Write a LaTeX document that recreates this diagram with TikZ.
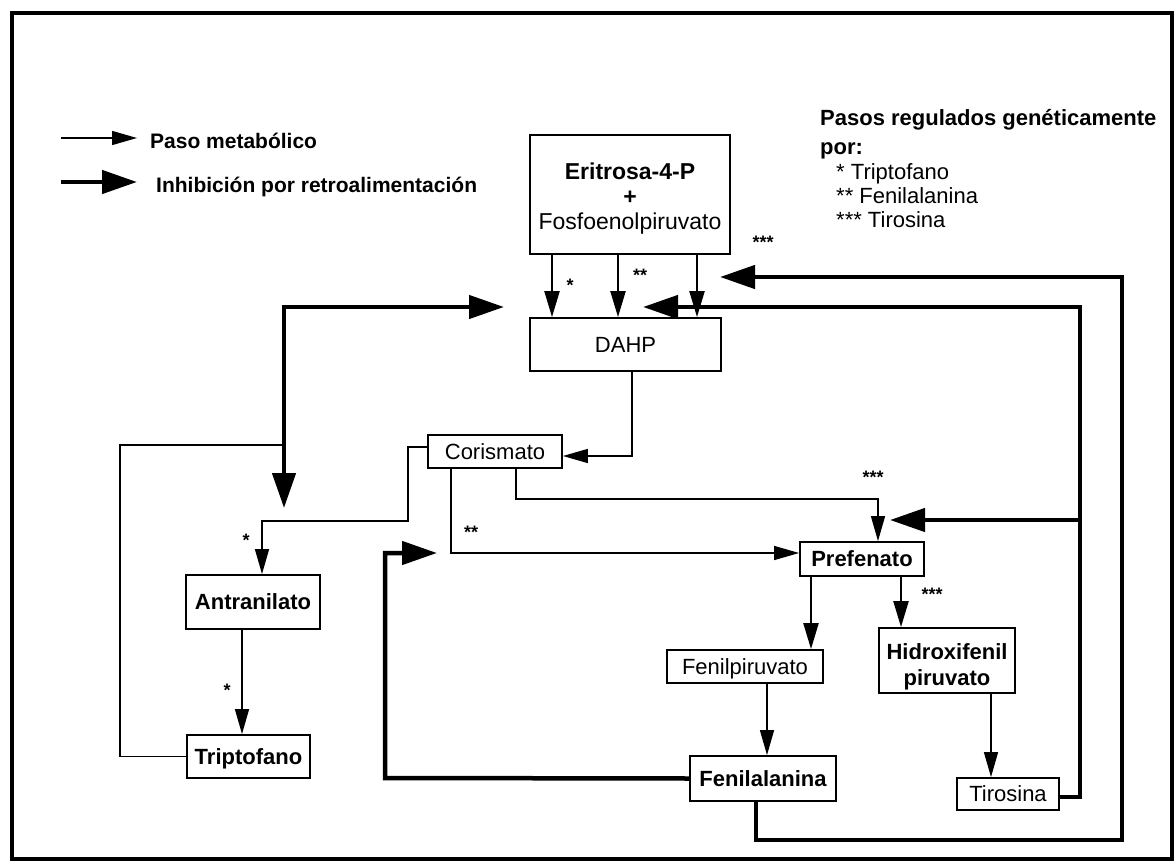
\documentclass[tikz,border=0pt]{standalone}
\usepackage{fontspec}
\setmainfont{Liberation Sans}
\usetikzlibrary{arrows.meta}
\begin{document}
\begin{tikzpicture}[x=1pt,y=-1pt,
  box/.style={draw,line width=1.8pt,inner sep=0pt,font=\fontsize{22}{25}\selectfont,text height=15.8pt,text depth=0pt},
  bbox/.style={box,font=\bfseries\fontsize{22}{25}\selectfont},
  emptybox/.style={draw,line width=1.8pt,inner sep=0pt},
  multi/.style={inner sep=0pt,align=center,font=\fontsize{23}{25}\selectfont},
  met/.style={line width=1.4pt,-{Triangle[length=25pt,width=14pt]}},
  metb/.style={line width=2.2pt,-{Triangle[length=26pt,width=15pt]}},
  fb/.style={line width=4.5pt,-{Triangle[length=35pt,width=23pt]}},
  thl/.style={line width=1.4pt},
  starlbl/.style={inner sep=0pt,font=\bfseries\fontsize{18}{18}\selectfont},
  txt/.style={inner sep=0pt,anchor=west,text height=15.8pt,text depth=0pt,font=\fontsize{22}{25}\selectfont},
  btxt/.style={txt,font=\bfseries\fontsize{22}{25}\selectfont},
  legtxt/.style={txt,font=\bfseries\fontsize{21}{25}\selectfont},
]
\useasboundingbox (0,0) rectangle (1175,861);
\fill[white] (0,0) rectangle (1175,861);
% frame
\draw[line width=4pt] (12,13) rectangle (1172,859);

% legend
\coordinate (la1) at (61,138);
\coordinate (lb1) at (137,138);
\coordinate (la2) at (61,182);
\coordinate (lb2) at (137,182);
\draw[met] (la1) -- (lb1);
\draw[fb] (la2) -- (lb2);
\node[legtxt] (leg1) at (150,141) {Paso metabólico};
\node[legtxt] (leg2) at (156,185) {Inhibición por retroalimentación};

\node[btxt] (reg1) at (820,118) {Pasos regulados genéticamente};
\node[btxt] (reg2) at (820,147) {por:};
\node[txt] (reg3) at (836,172) {* Triptofano};
\node[txt] (reg4) at (836,196) {** Fenilalanina};
\node[txt] (reg5) at (836,220) {*** Tirosina};

% boxes
\node[emptybox,minimum width=200pt,minimum height=119pt] (erit) at (630,194.5) {};
\node[multi] (erittxt) at (630,199) {\textbf{Eritrosa-4-P}\\\textbf{+}\\Fosfoenolpiruvato};
\node[box,minimum width=191pt,minimum height=53pt] (dahp) at (625.5,344.5) {DAHP};
\node[box,minimum width=134pt,minimum height=33pt] (coris) at (495,451.5) {Corismato};
\node[bbox,minimum width=134pt,minimum height=54pt] (antr) at (253,602) {Antranilato};
\node[bbox,minimum width=123pt,minimum height=43pt] (trip) at (248.5,756.5) {Triptofano};
\node[bbox,minimum width=124pt,minimum height=34pt] (pref) at (862,559) {Prefenato};
\node[box,minimum width=156pt,minimum height=33pt] (fpir) at (745,666.5) {Fenilpiruvato};
\node[emptybox,minimum width=136pt,minimum height=65pt] (hidr) at (947,660.5) {};
\node[multi,font=\bfseries\fontsize{22}{26}\selectfont] (hidrtxt) at (947,667) {Hidroxifenil\\piruvato};
\node[bbox,minimum width=146pt,minimum height=45pt] (fala) at (763,778.5) {Fenilalanina};
\node[box,minimum width=102pt,minimum height=32pt] (tiro) at (1008,794) {Tirosina};

% column / kink coordinates
\coordinate (xA) at (552,0);
\coordinate (xB) at (618,0);
\coordinate (xC) at (697,0);
\coordinate (xD) at (632,0);
\coordinate (xG) at (242,0);
\coordinate (xH) at (451,0);
\coordinate (xI) at (516,0);
\coordinate (xJ) at (811,0);
\coordinate (xK) at (901,0);
\coordinate (xL) at (767,0);
\coordinate (xM) at (991,0);

% Eritrosa -> DAHP
\draw[metb] (erit.south -| xA) -- (dahp.north -| xA);
\draw[metb] (erit.south -| xB) -- (dahp.north -| xB);
\draw[metb] (erit.south -| xC) -- (dahp.north -| xC);
\node[starlbl] (s1) at (570,285) {*};
\node[starlbl] (s2) at (640,275) {**};
\node[starlbl] (s3) at (763,242) {***};

% DAHP -> Corismato
\coordinate (kd) at (632,456);
\draw[met] (dahp.south -| xD) -- (kd) -- ([yshift=-4.5pt]coris.east);

% Corismato -> Antranilato
\coordinate (k1) at (408,521);
\coordinate (k2) at (262,521);
\draw[met] ([yshift=4.5pt]coris.west) -| (k1) -- (k2) -- (antr.north -| k2);
\node[starlbl] (s4) at (246,540) {*};

% Antranilato -> Triptofano
\draw[met] (antr.south -| xG) -- (trip.north -| xG);
\node[starlbl] (s5) at (227,690) {*};

% Triptofano feedback
\coordinate (k3) at (120,445);
\coordinate (j1) at (284,445);
\coordinate (tipA) at (504,307);
\coordinate (tipB) at (284,508);
\draw[thl] (trip.west) -| (k3) -- (j1);
\draw[fb] (j1) |- (tipA);
\draw[fb] (j1) -- (tipB);

% Corismato -> Prefenato (**)
\coordinate (k4) at (451,553);
\draw[met] (coris.south -| xH) -- (k4) -- (pref.west |- k4);
\node[starlbl] (s6) at (471,532) {**};

% Corismato -> Prefenato (***)
\coordinate (k5) at (878,499);
\draw[met] (coris.south -| xI) |- (k5) -- (pref.north -| k5);
\node[starlbl] (s7) at (873,477) {***};

% Prefenato -> Fenilpiruvato / Hidroxifenilpiruvato
\draw[metb] (pref.south -| xJ) -- (fpir.north -| xJ);
\draw[metb] (pref.south -| xK) -- (hidr.north -| xK);
\node[starlbl] (s8) at (932,594) {***};

% -> Fenilalanina / Tirosina
\draw[met] (fpir.south -| xL) -- (fala.north -| xL);
\draw[met] (hidr.south -| xM) -- (tiro.north -| xM);

% Fenilalanina feedback
\coordinate (k6) at (385,778);
\coordinate (tipC) at (437,553);
\draw[fb] (fala.west) -- (k6) |- (tipC);
\coordinate (k7) at (756,840);
\coordinate (k8) at (1122,840);
\coordinate (tipD) at (720,277);
\draw[fb] (fala.south -| k7) -- (k7) -- (k8) |- (tipD);

% Tirosina feedback
\coordinate (k9) at (1080,797);
\coordinate (tipE) at (643,307);
\draw[fb] (tiro.east |- k9) -- (k9) |- (tipE);
\coordinate (j2) at (1080,520);
\coordinate (tipF) at (890,520);
\draw[fb] (j2) -- (tipF);
\end{tikzpicture}
\end{document}
